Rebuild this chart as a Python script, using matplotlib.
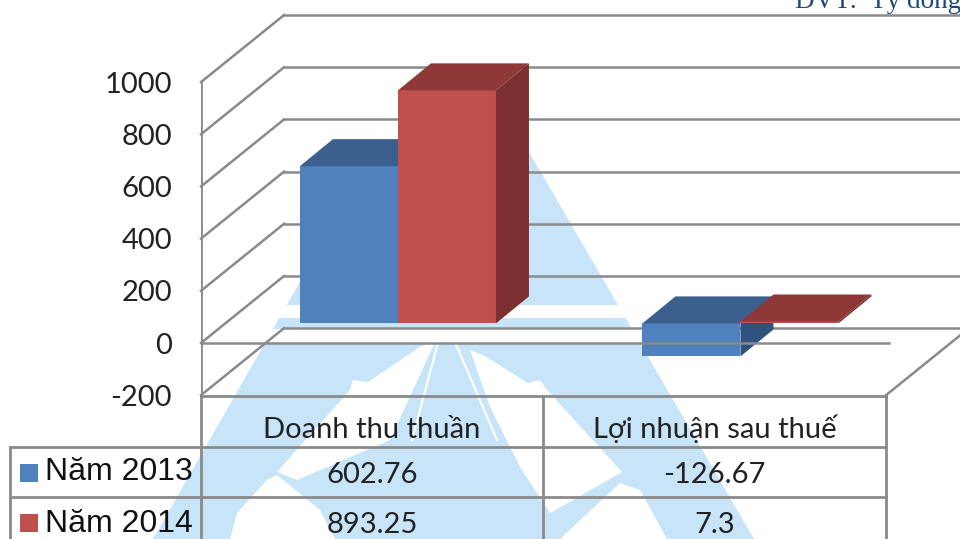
import matplotlib
matplotlib.use('Agg')
import matplotlib.pyplot as plt

plt.rcParams['axes.unicode_minus'] = False

categories = ['Doanh thu thuần', 'Lợi nhuận sau thuế']
series_names = ['Năm 2013', 'Năm 2014']
values_2013 = [602.76, -126.67]
values_2014 = [893.25, 7.3]
y_ticks = [-200, 0, 200, 400, 600, 800, 1000]

W, H = 960, 539
PX_X = 342.5      # pixels per category
PX_Y = 0.2609     # pixels per value unit
ZERO_Y = 343      # pixel row of the front zero line
LEFT = 201

CALIBRI = ['Lato', 'Open Sans', 'DejaVu Sans']
LINE = '#8A8A8A'
WATER = '#C8E4F8'
TEXT = '#222222'

fig = plt.figure(figsize=(W / 100, H / 100), dpi=100)

# background layer in pixels: watermark and table
bg = fig.add_axes([0, 0, 1, 1], zorder=0)
bg.set_xlim(0, W)
bg.set_ylim(H, 0)
bg.axis('off')

bg.fill([378, 525, 754, 153], [145, 145, 539, 539], color=WATER, lw=0)
bg.fill([270, 630, 636, 262], [305, 305, 318, 318], color='white', lw=0)
bg.fill([258, 640, 650, 250], [329, 329, 342, 342], color='white', lw=0)
bg.fill([277, 350, 353, 368, 420, 436, 390, 297], [472, 390, 380, 382, 347, 340, 440, 480], color='white', lw=0)
bg.fill([230, 237, 267, 277, 320, 335], [539, 513, 480, 475, 510, 539], color='white', lw=0)
bg.fill([483, 528, 540, 547, 622, 550, 520, 490, 470], [355, 383, 380, 390, 472, 513, 467, 407, 350], color='white', lw=0)
bg.fill([560, 620, 640, 667], [539, 483, 490, 539], color='white', lw=0)
bg.plot([440, 412], [335, 440], color='white', lw=1.5)
bg.plot([452, 497], [335, 440], color='white', lw=1.5)

# table
row_lines = [447, 497]
col_lines = [201, 543, 886]
row_base = [483, 533]
year_base = [480, 532]
legend_mid = [473, 523]
for y in row_lines:
    bg.plot([10, 886], [y, y], color=LINE, lw=2)
bg.plot([201, 886], [396, 396], color=LINE, lw=2)
bg.plot([10, 10], [447, 539], color=LINE, lw=2)
for x in col_lines:
    bg.plot([x, x], [396, 539], color=LINE, lw=2)

for i, c in enumerate(categories):
    cx = (col_lines[i] + col_lines[i + 1]) / 2
    bg.text(cx, 438, c, ha='center', va='baseline', fontsize=21, family=CALIBRI, color=TEXT)
    bg.text(cx, row_base[0], str(values_2013[i]), ha='center', va='baseline', fontsize=21, family=CALIBRI, color=TEXT)
    bg.text(cx, row_base[1], str(values_2014[i]), ha='center', va='baseline', fontsize=21, family=CALIBRI, color=TEXT)

colors = ['#4F81BD', '#C0504D']
for i, name in enumerate(series_names):
    m = legend_mid[i]
    bg.fill([20, 38, 38, 20], [m - 9, m - 9, m + 9, m + 9], color=colors[i], lw=0)
    bg.text(45, year_base[i], name, ha='left', va='baseline', fontsize=23, family='Liberation Sans', color='#111111')

bg.text(795, 8, 'ĐVT:  Tỷ đồng', ha='left', va='baseline', fontsize=19.5, family='Liberation Serif', color='#1F497D')

# chart layer: x in categories, y in values
ax = fig.add_axes([LEFT / W, 0, (W - LEFT) / W, 1], zorder=1)
ax.patch.set_alpha(0)
ax.set_xlim(0, (W - LEFT) / PX_X)
ax.set_ylim((ZERO_Y - H) / PX_Y, ZERO_Y / PX_Y)
for s in ax.spines.values():
    s.set_visible(False)
ax.set_xticks([])
ax.set_yticks(y_ticks)
ax.tick_params(axis='y', length=0, pad=21, labelsize=21, labelcolor=TEXT)
for lab in ax.get_yticklabels():
    lab.set_family(CALIBRI)

wall_dx = 83 / PX_X
wall_dy = 67 / PX_Y
for v in y_ticks:
    ax.plot([wall_dx, ax.get_xlim()[1]], [v + wall_dy, v + wall_dy], color=LINE, lw=1.8, zorder=1, clip_on=False)
    ax.plot([0, wall_dx], [v, v + wall_dy], color=LINE, lw=1.8, zorder=1, clip_on=False)
ax.plot([0, 0], [y_ticks[0], y_ticks[-1]], color=LINE, lw=2, zorder=1)
ax.plot([2, 2 + wall_dx], [y_ticks[0], y_ticks[0] + wall_dy], color=LINE, lw=1.8, zorder=1)

# 3D bars
bar_w = 98 / PX_X
base_dx = 25.7 / PX_X
base_dy = 19.6 / PX_Y
dep_dx = 33 / PX_X
dep_dy = 27 / PX_Y
tops = ['#3C608E', '#8E3937']
sides = ['#2F527E', '#7A302E']

for s, vals in enumerate([values_2013, values_2014]):
    for i, v in enumerate(vals):
        x0 = i + 0.5 - bar_w + s * bar_w + base_dx
        x1 = x0 + bar_w
        hi = max(v, 0) + base_dy
        lo = min(v, 0) + base_dy
        z = 3 + s + i * 2
        ax.bar(x0, v, width=bar_w, bottom=base_dy, align='edge', color=colors[s], lw=0, zorder=z)
        ax.fill([x0, x1, x1 + dep_dx, x0 + dep_dx], [hi, hi, hi + dep_dy, hi + dep_dy], color=tops[s], lw=0, zorder=z)
        ax.fill([x1, x1 + dep_dx, x1 + dep_dx, x1], [hi, hi + dep_dy, lo + dep_dy, lo], color=sides[s], lw=0, zorder=z)

# front zero line sits over the bars
ax.plot([0, 2 + 3 / PX_X], [0, 0], color=LINE, lw=1.8, zorder=10)

fig.savefig('out.png', dpi=100)
